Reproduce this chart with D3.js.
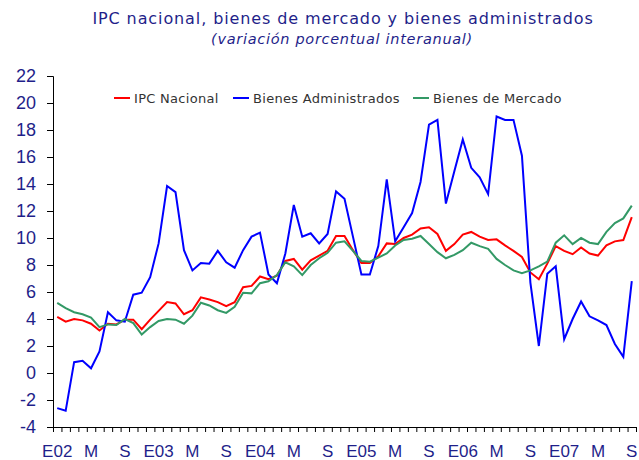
<!DOCTYPE html>
<html>
<head>
<meta charset="utf-8">
<script src="https://cdn.jsdelivr.net/npm/d3@7"></script>
<style>
  body { margin: 0; background: #fff; }
  svg { font-family: "DejaVu Sans", Verdana, sans-serif; }
</style>
</head>
<body>
<svg width="639" height="460"></svg>
<script>
// months Jan 2002 .. Sep 2007
const years = ['02', '03', '04', '05', '06', '07'];
const monthCodes = ['E', 'F', 'M', 'A', 'M', 'J', 'J', 'A', 'S', 'O', 'N', 'D'];
const categories = [];
years.forEach(yy => monthCodes.forEach((m, k) => categories.push(yy + '-' + (k + 1))));
categories.length = 69;

// one label every 4 months (Enero, Mayo, Septiembre)
const tickLabels = ['E02', 'M', 'S', 'E03', 'M', 'S', 'E04', 'M', 'S',
  'E05', 'M', 'S', 'E06', 'M', 'S', 'E07', 'M', 'S'];
const yTicks = [-4, -2, 0, 2, 4, 6, 8, 10, 12, 14, 16, 18, 20, 22];

const ipcNacional = [
  4.15, 3.8, 4.0, 3.9, 3.65, 3.15, 3.65, 3.6, 3.95, 3.95, 3.25, 3.95,
  4.6, 5.25, 5.15, 4.35, 4.65, 5.6, 5.45, 5.25, 4.95, 5.25, 6.35, 6.45,
  7.15, 6.95, 7.2, 8.3, 8.45, 7.65, 8.35, 8.7, 9.05, 10.15, 10.15, 9.1,
  8.15, 8.15, 8.65, 9.6, 9.55, 10.0, 10.25, 10.7, 10.8, 10.3, 9.05, 9.55,
  10.25, 10.45, 10.1, 9.85, 9.9, 9.45, 9.05, 8.6, 7.45, 6.95, 8.1, 9.4,
  9.05, 8.8, 9.3, 8.85, 8.7, 9.45, 9.75, 9.85, 11.55
];
const bienesAdministrados = [
  -2.6, -2.8, 0.8, 0.9, 0.35, 1.6, 4.5, 3.9, 3.8, 5.8, 5.95, 7.1,
  9.6, 13.85, 13.4, 9.1, 7.6, 8.15, 8.1, 9.05, 8.2, 7.8, 9.1, 10.1,
  10.4, 7.3, 6.65, 8.85, 12.45, 10.1, 10.35, 9.6, 10.3, 13.45, 12.9, 10.1,
  7.3, 7.3, 9.4, 14.35, 9.75, 10.8, 11.85, 14.15, 18.4, 18.75, 12.55, 14.95,
  17.3, 15.2, 14.5, 13.25, 19.0, 18.75, 18.75, 16.1, 6.7, 2.0, 7.35, 7.9,
  2.5, 4.0, 5.3, 4.2, 3.9, 3.55, 2.15, 1.2, 6.8
];
const bienesMercado = [
  5.2, 4.8, 4.5, 4.35, 4.1, 3.4, 3.6, 3.55, 4.0, 3.7, 2.85, 3.4,
  3.85, 4.0, 3.95, 3.65, 4.25, 5.2, 5.0, 4.65, 4.45, 4.9, 5.95, 5.9,
  6.65, 6.8, 7.25, 8.2, 7.9, 7.25, 8.0, 8.5, 8.9, 9.65, 9.75, 9.05,
  8.3, 8.25, 8.55, 8.85, 9.45, 9.85, 9.95, 10.15, 9.55, 8.95, 8.5, 8.75,
  9.1, 9.65, 9.4, 9.2, 8.45, 8.0, 7.6, 7.4, 7.6, 7.9, 8.25, 9.65,
  10.2, 9.55, 10.0, 9.65, 9.55, 10.45, 11.1, 11.45, 12.4
];

const series = [
  { name: 'IPC Nacional', values: ipcNacional, color: '#ff0000' },
  { name: 'Bienes Administrados', values: bienesAdministrados, color: '#0000ff' },
  { name: 'Bienes de Mercado', values: bienesMercado, color: '#339966' }
];

const svg = d3.select('svg');
const plotLeft = 53, plotRight = 636, plotTop = 76, plotBottom = 427;
const navy = '#1f1f8a';

const x = d3.scaleBand().domain(categories).range([plotLeft, plotRight]).padding(0);
const xEdge = d3.scaleLinear().domain([0, categories.length]).range([plotLeft, plotRight]);
const y = d3.scaleLinear().domain([-4, 22]).range([plotBottom, plotTop]);

// title
svg.append('text')
  .attr('x', 343).attr('y', 24)
  .attr('text-anchor', 'middle')
  .attr('fill', navy)
  .style('font-size', '16px')
  .style('letter-spacing', '0.9px')
  .text('IPC nacional, bienes de mercado y bienes administrados');
svg.append('text')
  .attr('x', 342).attr('y', 44)
  .attr('text-anchor', 'middle')
  .attr('fill', navy)
  .style('font-size', '14.5px')
  .style('font-style', 'italic')
  .style('letter-spacing', '0.7px')
  .text('(variación porcentual interanual)');

// y axis
const yAxis = svg.append('g')
  .attr('transform', `translate(${plotLeft},0)`)
  .call(d3.axisLeft(y).tickValues(yTicks).tickSize(6).tickPadding(11).tickFormat(d => String(d)));
yAxis.selectAll('text').attr('fill', navy).style('font-size', '18px');

// x axis: monthly tick marks on the category edges
svg.append('g')
  .attr('transform', `translate(0,${plotBottom})`)
  .call(d3.axisBottom(xEdge).tickValues(d3.range(categories.length + 1)).tickSize(5).tickFormat(''));

// x axis labels every 4 months
const labelCats = categories.filter((c, i) => i % 4 === 0);
const xLab = svg.append('g')
  .attr('transform', `translate(0,${plotBottom})`)
  .call(d3.axisBottom(x).tickValues(labelCats).tickSize(0).tickPadding(18)
    .tickFormat((d, i) => tickLabels[i]));
xLab.select('.domain').remove();
xLab.selectAll('text').attr('fill', navy).style('font-size', '17px');

svg.selectAll('.domain').attr('stroke', '#000');
svg.selectAll('.tick line').attr('stroke', '#000');

// lines
const line = d3.line()
  .x((d, i) => x(categories[i]) + x.bandwidth() / 2)
  .y(d => y(d));

svg.selectAll('.series')
  .data(series)
  .enter().append('path')
  .attr('class', 'series')
  .attr('fill', 'none')
  .attr('stroke', d => d.color)
  .attr('stroke-width', 2)
  .attr('d', d => line(d.values));

// legend
const legendX = [114, 233, 413];
const legend = svg.selectAll('.legend')
  .data(series)
  .enter().append('g')
  .attr('class', 'legend')
  .attr('transform', (d, i) => `translate(${legendX[i]},98)`);
legend.append('line')
  .attr('x1', 0).attr('x2', 16)
  .attr('stroke', d => d.color)
  .attr('stroke-width', 2);
legend.append('text')
  .attr('x', 20).attr('y', 5)
  .attr('fill', '#333')
  .style('font-size', '13px')
  .style('letter-spacing', '0.3px')
  .text(d => d.name);
</script>
</body>
</html>
